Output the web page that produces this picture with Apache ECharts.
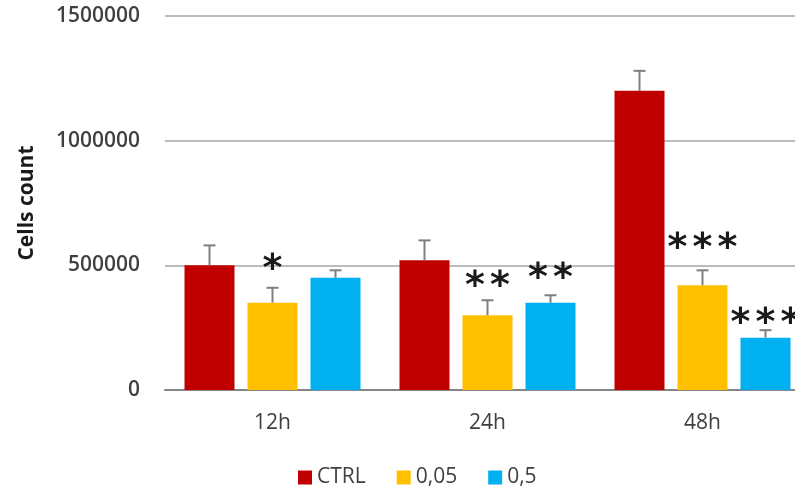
<!DOCTYPE html>
<html>
<head>
<meta charset="utf-8">
<script src="https://cdn.jsdelivr.net/npm/echarts@6/dist/echarts.min.js"></script>
<style>
  html, body { margin: 0; padding: 0; background: #fff; }
  #chart { width: 795px; height: 493px; }
</style>
</head>
<body>
<div id="chart"></div>
<script>
// data
const categories = ['12h', '24h', '48h'];
const seriesNames = ['CTRL', '0,05', '0,5'];
const ctrlValues = [500000, 520000, 1200000];
const lowValues = [350000, 300000, 420000];
const highValues = [450000, 350000, 210000];
// top of each error bar
const ctrlErrTop = [580000, 600000, 1280000];
const lowErrTop = [410000, 360000, 480000];
const highErrTop = [480000, 380000, 240000];
// significance marks: [category index, series index, y centre, stars]
const sigMarks = [
    [0, 1, 515000, 1],
    [1, 1, 450000, 2],
    [1, 2, 480000, 2],
    [2, 1, 600000, 3],
    [2, 2, 300000, 3]
];

const colors = ['#c00000', '#ffc000', '#00b0f0'];
const BAR_W = 50;
const BAR_STEP = 63; // bar width + gap
const textColor = '#404040';
const font = '"Open Sans", sans-serif';

const IdInitEcharts = (id) => {
    let theDiv = document.getElementById(id);
    return echarts.init(theDiv);
}

const errData = [];
[ctrlValues, lowValues, highValues].forEach((vals, s) => {
    const tops = [ctrlErrTop, lowErrTop, highErrTop][s];
    vals.forEach((v, c) => errData.push([c, v, tops[c], s]));
});

const barSeries = [ctrlValues, lowValues, highValues].map((vals, i) => ({
    name: seriesNames[i],
    type: 'bar',
    data: vals,
    barWidth: BAR_W,
    barGap: ((BAR_STEP - BAR_W) / BAR_W * 100) + '%',
    itemStyle: { color: colors[i] },
    z: 2
}));

const errSeries = {
    type: 'custom',
    data: errData,
    z: 3,
    silent: true,
    renderItem: (params, api) => {
        const off = (api.value(3) - 1) * BAR_STEP;
        const p0 = api.coord([api.value(0), api.value(1)]);
        const p1 = api.coord([api.value(0), api.value(2)]);
        const x = p0[0] + off;
        const style = { stroke: '#7f7f7f', lineWidth: 2 };
        return {
            type: 'group',
            children: [
                { type: 'line', shape: { x1: x, y1: p0[1], x2: x, y2: p1[1] }, style },
                { type: 'line', shape: { x1: x - 6, y1: p1[1], x2: x + 6, y2: p1[1] }, style }
            ]
        };
    }
};

const starSeries = {
    type: 'custom',
    data: sigMarks,
    z: 4,
    silent: true,
    renderItem: (params, api) => {
        const off = (api.value(1) - 1) * BAR_STEP;
        const p = api.coord([api.value(0), api.value(2)]);
        const n = api.value(3);
        const children = [];
        for (let k = 0; k < n; k++) {
            children.push({
                type: 'text',
                x: p[0] + off + (k - (n - 1) / 2) * 25,
                y: p[1] + 9,
                style: {
                    text: '*',
                    fill: '#1a1a1a',
                    font: 'bold 38px "DejaVu Sans", sans-serif',
                    align: 'center',
                    verticalAlign: 'middle'
                }
            });
        }
        return { type: 'group', children };
    }
};

const option = {
    animation: false,
    backgroundColor: '#fff',
    // plot runs past the right edge of the picture, as in the reference
    grid: { left: 165, width: 645, top: 16, bottom: 103, outerBoundsMode: 'none' },
    legend: {
        data: seriesNames,
        left: 298,
        top: 467,
        padding: 0,
        icon: 'rect',
        itemWidth: 14,
        itemHeight: 14,
        itemGap: 31,
        textStyle: { color: textColor, fontSize: 21, fontFamily: font }
    },
    xAxis: {
        type: 'category',
        data: categories,
        axisLine: { lineStyle: { color: '#868686', width: 2 } },
        axisTick: { show: false },
        axisLabel: { color: textColor, fontSize: 21, fontFamily: font, margin: 23 }
    },
    yAxis: {
        type: 'value',
        min: 0,
        max: 1500000,
        interval: 500000,
        name: 'Cells count',
        nameLocation: 'middle',
        nameGap: 127,
        nameTextStyle: { color: '#1a1a1a', fontSize: 21, fontWeight: 'bold', fontFamily: font },
        axisLabel: {
            color: textColor, fontSize: 21, fontWeight: 600, fontFamily: font, margin: 25,
            formatter: (v) => String(v)
        },
        splitLine: { lineStyle: { color: '#a6a6a6', width: 1.5 } }
    },
    series: [...barSeries, errSeries, starSeries]
};

const chart = IdInitEcharts('chart');
chart.setOption(option);
</script>
</body>
</html>
